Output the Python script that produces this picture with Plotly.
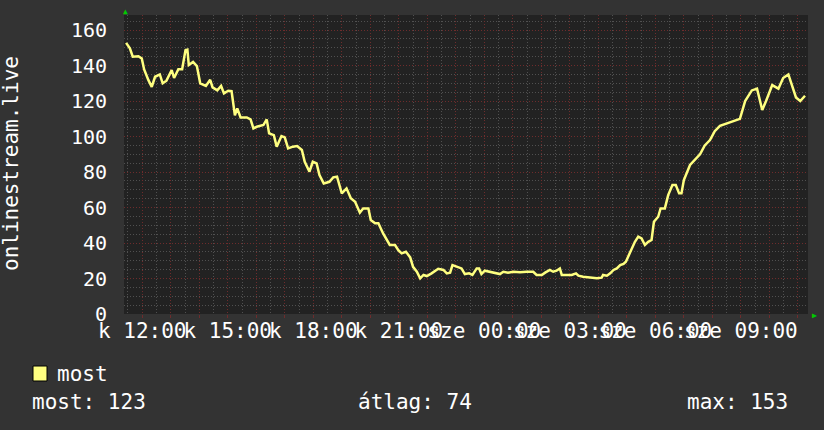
import plotly.graph_objects as go

# time in minutes since Tuesday (kedd) 00:00; values = viewers
minutes = [686, 694, 700, 712, 719, 724, 733, 740, 747, 757, 763, 771, 782, 787, 796, 804,
           811, 815, 818, 827, 835, 842, 854, 863, 868, 878, 886, 892, 901, 908, 915, 920,
           927, 940, 948, 954, 961, 975, 982, 987, 997, 1003, 1013, 1020, 1027, 1037, 1046,
           1056, 1062, 1072, 1079, 1087, 1093, 1102, 1114, 1122, 1130, 1140, 1150, 1159,
           1168, 1178, 1185, 1196, 1201, 1210, 1217, 1224, 1227, 1241, 1252, 1259, 1266,
           1275, 1284, 1290, 1298, 1305, 1312, 1319, 1329, 1343, 1354, 1361, 1368, 1373,
           1383, 1392, 1399, 1408, 1415, 1424, 1429, 1434, 1441, 1452, 1462, 1473, 1480,
           1490, 1501, 1515, 1529, 1543, 1550, 1561, 1568, 1578, 1585, 1592, 1599, 1603,
           1613, 1624, 1633, 1638, 1648, 1659, 1669, 1677, 1687, 1690, 1698, 1705, 1712,
           1719, 1726, 1733, 1738, 1743, 1750, 1757, 1764, 1771, 1778, 1785, 1792, 1797,
           1806, 1811, 1820, 1827, 1836, 1843, 1850, 1855, 1860, 1873, 1894, 1904, 1915,
           1925, 1936, 1957, 1978, 1989, 2003, 2014, 2025, 2033, 2046, 2059, 2069, 2080,
           2088, 2096, 2105, 2115]
viewers = [152.8, 149.7, 145, 145.3, 144, 137.8, 131.8, 128, 133.7, 135, 130, 131.5, 137.5,
           133, 137.9, 137.9, 148.7, 149, 140.3, 142, 139.7, 130, 128.5, 132, 127.7, 126,
           128.5, 124.3, 125.8, 125.6, 112, 115.9, 110.8, 110.8, 109.7, 104.6, 105.5, 106.5,
           109.7, 101.8, 100.8, 94.3, 100.3, 99.5, 93.3, 94.3, 94.6, 92.4, 85.8, 80.2, 85.8,
           84.9, 78.3, 73.6, 74.5, 77, 77.4, 68, 70.8, 65.2, 63.3, 57.1, 59.5, 59.5, 53,
           51.1, 51.1, 47.3, 45.4, 38.9, 38.9, 36, 34.2, 35.1, 31.9, 26.6, 23.8, 20.1, 22,
           21.4, 22.9, 25.5, 24.8, 22.9, 23.3, 27.6, 26.6, 25.7, 22.5, 22.9, 22, 25.7, 25.7,
           22.5, 24.4, 23.8, 23.3, 22.5, 23.8, 23.3, 23.8, 23.5, 23.8, 23.8, 22, 22, 23.3,
           24.8, 23.8, 24.4, 25.7, 22, 22, 22, 22.9, 21.6, 21, 20.7, 20.7, 20.1, 20.5, 22,
           21.6, 22.9, 24.8, 25.7, 27.6, 28.2, 29.5, 32.3, 36, 40.7, 43.6, 42.6, 38.9, 40.7,
           41.7, 52, 54.8, 59.5, 59.5, 67, 72.7, 72.7, 68, 68, 75.5, 84, 90, 95, 98, 103,
           106, 108, 110, 120, 126, 127, 115, 120, 129, 127, 133, 135, 129, 122, 120, 123]

tick_minutes = [720, 900, 1080, 1260, 1440, 1620, 1800, 1980]
tick_labels = ["k 12:00", "k 15:00", "k 18:00", "k 21:00",
               "sze 00:00", "sze 03:00", "sze 06:00", "sze 09:00"]
y_ticks = [0, 20, 40, 60, 80, 100, 120, 140, 160]

series_name = "most"
stat_now, stat_avg, stat_max = 123, 74, 153
y_title = "onlinestream.live"

FONT = "DejaVu Sans Mono"
RED = "#6e2c2c"
GRAY = "#505050"
LINE = "#ffff80"
DASH = "1px,2px"
BG = "#333333"

# hourly major grid with labels only every 3 hours
hour_vals = list(range(660, 2160, 60))
label_map = dict(zip(tick_minutes, tick_labels))
hour_text = [label_map.get(v, "") for v in hour_vals]

fig = go.Figure()
fig.add_trace(go.Scatter(x=minutes, y=viewers, mode="lines",
                         line=dict(color=LINE, width=2.5), showlegend=False,
                         hoverinfo="skip"))

W, H = 824, 430
L, R, T, B = 124, 16, 15, 116
pw = W - L - R
ph = H - T - B

fig.update_layout(
    width=W, height=H,
    margin=dict(l=L, r=R, t=T, b=B),
    paper_bgcolor=BG,
    plot_bgcolor="#222222",
    font=dict(family=FONT, size=21, color="#ffffff"),
    xaxis=dict(range=[681.6, 2121.3], tickmode="array", tickvals=hour_vals,
               ticktext=hour_text, tickangle=0, showgrid=True, gridcolor=RED,
               griddash=DASH, gridwidth=1, zeroline=False, showline=False,
               ticks="outside", ticklen=3, tickcolor=RED, ticklabelstandoff=-5,
               tickfont=dict(family=FONT, size=21, color="#ffffff"),
               minor=dict(dtick=30, tick0=0, showgrid=True, gridcolor=GRAY,
                          griddash=DASH, gridwidth=1)),
    yaxis=dict(range=[0, 168.5], tickmode="array", tickvals=y_ticks,
               showgrid=True, gridcolor=RED, griddash=DASH, gridwidth=1,
               zeroline=False, showline=False, ticklabelstandoff=16,
               tickfont=dict(family=FONT, size=20, color="#ffffff"),
               minor=dict(dtick=5, tick0=0, showgrid=True, gridcolor=GRAY,
                          griddash=DASH, gridwidth=1)),
)

def px(xp):
    return (xp - L) / pw

def py(yp):
    return (H - B - yp) / ph

def label(text, x, y, **kw):
    d = dict(text=text, x=px(x), y=py(y), xref="paper", yref="paper", showarrow=False,
             xanchor="left", yanchor="middle", borderpad=0,
             font=dict(family=FONT, size=21, color="#ffffff"))
    d.update(kw)
    return d

ann = [
    label(y_title, 11, 164, textangle=-90, xanchor="center"),
    label("▲", 125, 11, xanchor="center", font=dict(size=8, color="#00cc00")),
    label("▶", 814, 315, xanchor="center", font=dict(size=8, color="#00cc00")),
    label(series_name, 56, 374),
    label(f"most: {stat_now}", 31, 402),
    label(f"átlag: {stat_avg}", 357, 402),
    label(f"max: {stat_max}", 686, 402),
]
fig.update_layout(annotations=ann)

fig.add_shape(type="rect", xref="paper", yref="paper",
              x0=px(33), x1=px(47), y0=py(381), y1=py(366),
              fillcolor=LINE, line=dict(color="#000000", width=1))

fig.write_html(
    "out.html",
    config={"displayModeBar": False},
    post_script=f"document.body.style.margin='0';document.body.style.background='{BG}';",
)
